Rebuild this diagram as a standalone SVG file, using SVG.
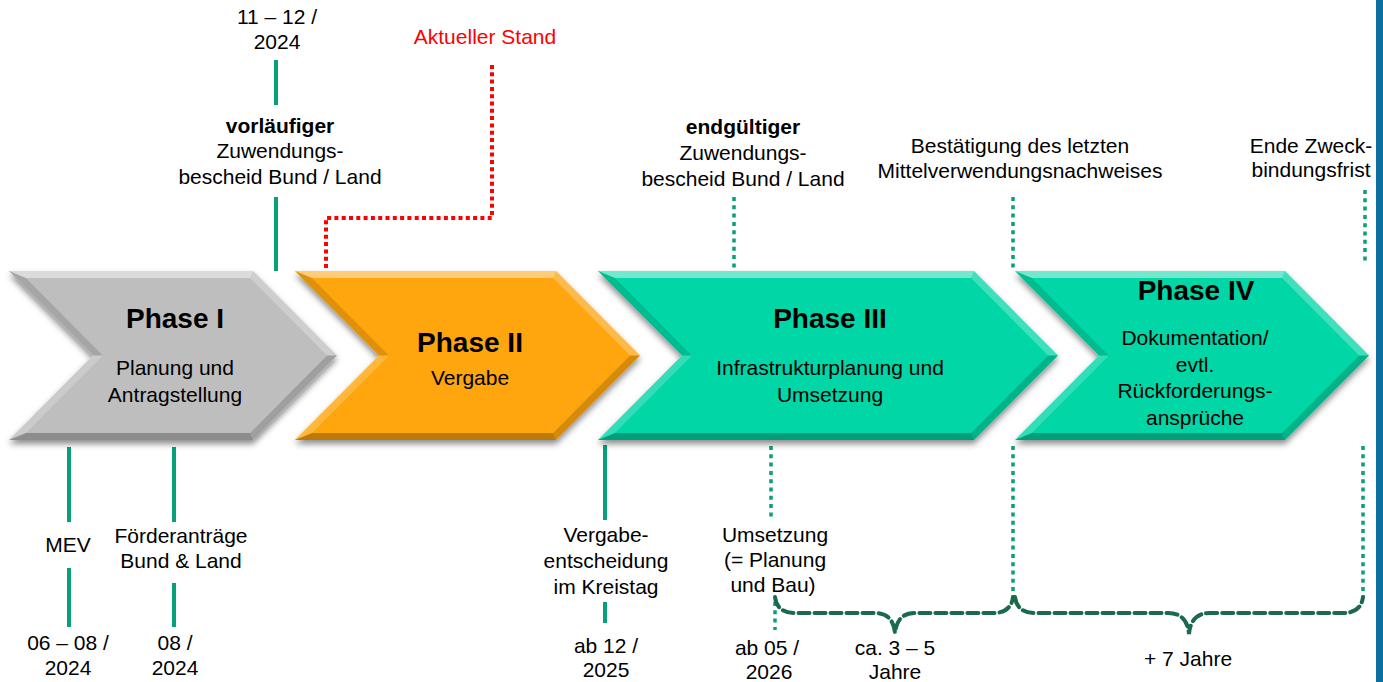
<svg xmlns="http://www.w3.org/2000/svg" width="1383" height="682" viewBox="0 0 1383 682">
<defs>
<filter id="sh" x="-5%" y="-10%" width="110%" height="130%">
<feDropShadow dx="0" dy="4" stdDeviation="3" flood-color="#000" flood-opacity="0.45"/>
</filter>
<style>
text{font-family:"Liberation Sans",Arial,sans-serif;font-size:21px;fill:#000;text-anchor:middle}
.title{font-size:28px;font-weight:bold}
.b{font-weight:bold}
.red{fill:#FF0000}
.f1{fill:#fff;opacity:.45}
.f2{fill:#fff;opacity:.25}
.f3{fill:#000;opacity:.16}
.f4{fill:#000;opacity:.26}
.f5{fill:#fff;opacity:.2}
.f6{fill:#000;opacity:.12}
.solid{stroke:#08A078;stroke-width:4;fill:none}
.dot{stroke:#08A078;stroke-width:3.5;stroke-dasharray:4 4.3;fill:none}
.reddot{stroke:#FF0000;stroke-width:4;stroke-dasharray:4 3.3;fill:none}
.brace{stroke:#1B6A4B;stroke-width:4;stroke-dasharray:11 5;fill:none;stroke-linecap:round}
</style>
</defs>
<rect width="1383" height="682" fill="#fff"/>
<rect x="1376" y="0" width="7" height="682" fill="#0B6FA0"/>

<g id="connectors">
<line class="solid" x1="276" y1="60" x2="276" y2="105"/>
<line class="solid" x1="276" y1="197" x2="276" y2="271"/>
<polyline class="reddot" points="492,65 492,218 326,218 326,270"/>
<line class="dot" x1="734" y1="197" x2="734" y2="271"/>
<line class="dot" x1="1013" y1="197" x2="1013" y2="271"/>
<line class="dot" x1="1365" y1="190" x2="1365" y2="264"/>
<line class="solid" x1="69" y1="447" x2="69" y2="522"/>
<line class="solid" x1="69" y1="568" x2="69" y2="627"/>
<line class="solid" x1="174" y1="447" x2="174" y2="522"/>
<line class="solid" x1="174" y1="583" x2="174" y2="627"/>
<line class="solid" x1="605" y1="445" x2="605" y2="520"/>
<line class="solid" x1="605" y1="602" x2="605" y2="623"/>
<line class="dot" x1="771" y1="446" x2="771" y2="520"/>
<line class="dot" x1="775" y1="602" x2="775" y2="630"/>
<line class="dot" x1="1013" y1="446" x2="1013" y2="596"/>
<line class="dot" x1="1363" y1="446" x2="1363" y2="596"/>
<path class="brace" d="M775,597 Q777,613 795,613 L875,613 Q893,613 895,633 Q897,613 915,613 L993,613 Q1011,613 1013,597"/>
<path class="brace" d="M1015,597 Q1017,613 1035,613 L1168,613 Q1187,613 1189,634 Q1191,613 1210,613 L1343,613 Q1361,613 1363,597"/>
</g>

<g id="phase1">
<polygon filter="url(#sh)" fill="#BEBEBE" points="9,271 253,271 337,355.5 253,440 9,440 93,355.5"/>
<polygon class="f1" points="9,271 253,271 250.1,278 25.9,278"/>
<polygon class="f2" points="253,271 337,355.5 327.1,355.5 250.1,278"/>
<polygon class="f3" points="337,355.5 253,440 250.1,433 327.1,355.5"/>
<polygon class="f4" points="253,440 9,440 25.9,433 250.1,433"/>
<polygon class="f5" points="9,440 93,355.5 102.9,355.5 25.9,433"/>
<polygon class="f6" points="93,355.5 9,271 25.9,278 102.9,355.5"/>
<text class="title" x="175" y="328">Phase I</text>
<text x="175" y="375">Planung und</text>
<text x="175" y="402">Antragstellung</text>
</g>

<g id="phase2">
<polygon filter="url(#sh)" fill="#FFA50A" points="295,271 556,271 640,355.5 556,440 295,440 379,355.5"/>
<polygon class="f1" points="295,271 556,271 553.1,278 311.9,278"/>
<polygon class="f2" points="556,271 640,355.5 630.1,355.5 553.1,278"/>
<polygon class="f3" points="640,355.5 556,440 553.1,433 630.1,355.5"/>
<polygon class="f4" points="556,440 295,440 311.9,433 553.1,433"/>
<polygon class="f5" points="295,440 379,355.5 388.9,355.5 311.9,433"/>
<polygon class="f6" points="379,355.5 295,271 311.9,278 388.9,355.5"/>
<text class="title" x="470" y="352">Phase II</text>
<text x="470" y="385">Vergabe</text>
</g>

<g id="phase3">
<polygon filter="url(#sh)" fill="#06D6A6" points="598,271 974,271 1058,355.5 974,440 598,440 682,355.5"/>
<polygon class="f1" points="598,271 974,271 971.1,278 614.9,278"/>
<polygon class="f2" points="974,271 1058,355.5 1048.1,355.5 971.1,278"/>
<polygon class="f3" points="1058,355.5 974,440 971.1,433 1048.1,355.5"/>
<polygon class="f4" points="974,440 598,440 614.9,433 971.1,433"/>
<polygon class="f5" points="598,440 682,355.5 691.9,355.5 614.9,433"/>
<polygon class="f6" points="682,355.5 598,271 614.9,278 691.9,355.5"/>
<text class="title" x="830" y="328">Phase III</text>
<text x="830" y="375">Infrastrukturplanung und</text>
<text x="830" y="402">Umsetzung</text>
</g>

<g id="phase4">
<polygon filter="url(#sh)" fill="#06D6A6" points="1015,271 1285,271 1369,355.5 1285,440 1015,440 1099,355.5"/>
<polygon class="f1" points="1015,271 1285,271 1282.1,278 1031.9,278"/>
<polygon class="f2" points="1285,271 1369,355.5 1359.1,355.5 1282.1,278"/>
<polygon class="f3" points="1369,355.5 1285,440 1282.1,433 1359.1,355.5"/>
<polygon class="f4" points="1285,440 1015,440 1031.9,433 1282.1,433"/>
<polygon class="f5" points="1015,440 1099,355.5 1108.9,355.5 1031.9,433"/>
<polygon class="f6" points="1099,355.5 1015,271 1031.9,278 1108.9,355.5"/>
<text class="title" x="1196" y="300">Phase IV</text>
<text x="1195" y="345">Dokumentation/</text>
<text x="1195" y="372">evtl.</text>
<text x="1195" y="398">Rückforderungs-</text>
<text x="1195" y="425">ansprüche</text>
</g>

<g id="label-vorlaeufig">
<text x="277" y="24">11 – 12 /</text>
<text x="277" y="49">2024</text>
<text class="b" x="280" y="133">vorläufiger</text>
<text x="280" y="158">Zuwendungs-</text>
<text x="280" y="184">bescheid Bund / Land</text>
</g>
<g id="label-stand">
<text class="red" x="485" y="44">Aktueller Stand</text>
</g>
<g id="label-endgueltig">
<text class="b" x="743" y="134">endgültiger</text>
<text x="743" y="160">Zuwendungs-</text>
<text x="743" y="186">bescheid Bund / Land</text>
</g>
<g id="label-bestaetigung">
<text x="1020" y="153">Bestätigung des letzten</text>
<text x="1020" y="178">Mittelverwendungsnachweises</text>
</g>
<g id="label-ende">
<text x="1311" y="153">Ende Zweck-</text>
<text x="1311" y="177">bindungsfrist</text>
</g>
<g id="label-mev">
<text x="68" y="552">MEV</text>
<text x="68" y="650">06 – 08 /</text>
<text x="68" y="675">2024</text>
</g>
<g id="label-foerder">
<text x="181" y="543">Förderanträge</text>
<text x="181" y="568">Bund &amp; Land</text>
<text x="175" y="650">08 /</text>
<text x="175" y="675">2024</text>
</g>
<g id="label-vergabe">
<text x="606" y="542">Vergabe-</text>
<text x="606" y="568">entscheidung</text>
<text x="606" y="594">im Kreistag</text>
<text x="606" y="653">ab 12 /</text>
<text x="606" y="677">2025</text>
</g>
<g id="label-umsetzung">
<text x="775" y="542">Umsetzung</text>
<text x="775" y="567">(= Planung</text>
<text x="773" y="592">und Bau)</text>
<text x="767" y="655">ab 05 /</text>
<text x="769" y="679">2026</text>
</g>
<g id="label-dauer">
<text x="895" y="655">ca. 3 – 5</text>
<text x="895" y="679">Jahre</text>
<text x="1188" y="666">+ 7 Jahre</text>
</g>
</svg>
